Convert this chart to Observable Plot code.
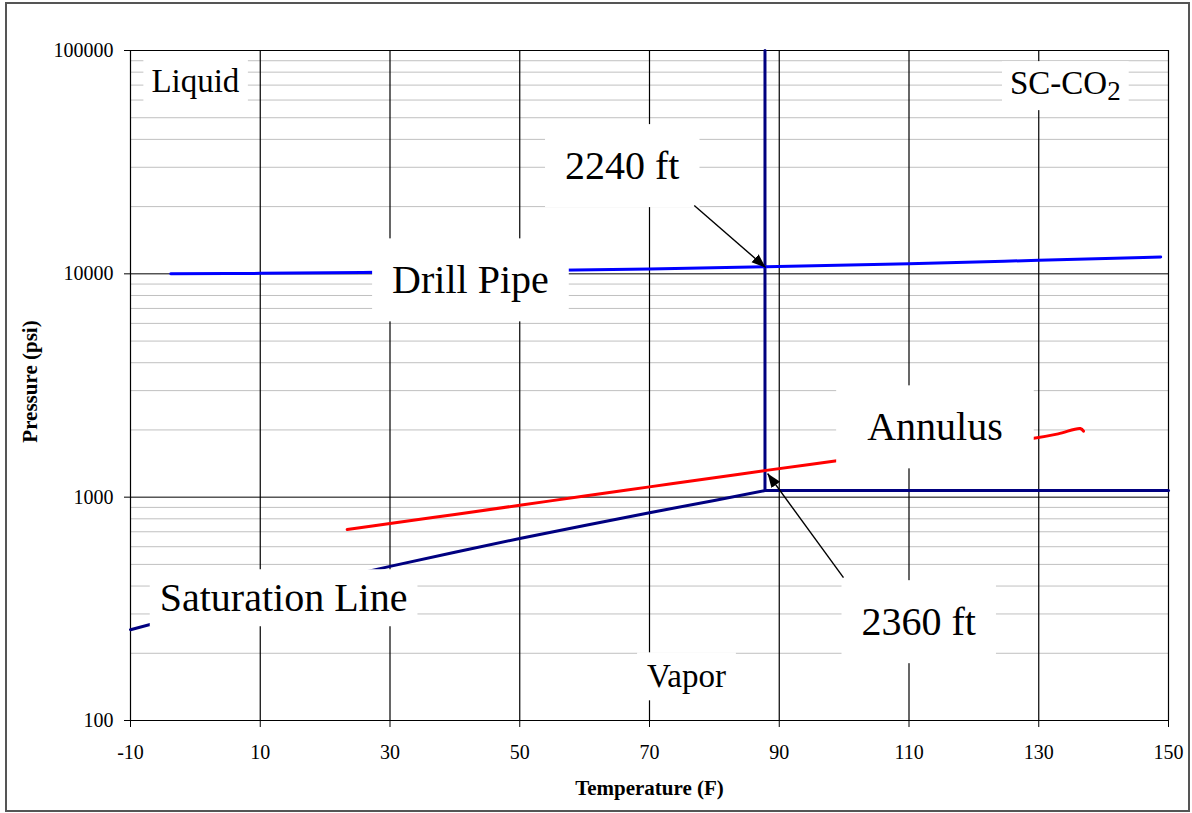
<!DOCTYPE html>
<html><head><meta charset="utf-8">
<script src="https://cdn.jsdelivr.net/npm/d3@7"></script>
<script src="https://cdn.jsdelivr.net/npm/@observablehq/plot@0.6"></script>
<style>
body{margin:0;background:#fff;}
#wrap{position:relative;width:1192px;height:813px;overflow:hidden;}
#frame{position:absolute;left:5px;top:2px;width:1181px;height:806px;border:2px solid #555;pointer-events:none;}
</style></head>
<body><div id="wrap"><div id="chart"></div><div id="frame"></div></div>
<script>
// ---- data ----
const xTicks = [-10, 10, 30, 50, 70, 90, 110, 130, 150];
const yMajor = [100, 1000, 10000, 100000];
const yMinor = [200,300,400,500,600,700,800,900,2000,3000,4000,5000,6000,7000,8000,9000,20000,30000,40000,50000,60000,70000,80000,90000];

// Saturation line (navy)
const satT = [-10, 0, 10, 20, 30, 40, 50, 60, 70, 80, 87.8];
const satP = [255, 305, 360, 421, 490, 567, 653, 747, 852, 967, 1070];
// critical temperature (vertical) and critical pressure (horizontal) lines
const critT = [87.8, 87.8];
const critP = [1070, 100000];
const cpT = [87.8, 150];
const cpP = [1070, 1070];
// Drill Pipe (blue)
const pipeT = [-3.8, 10, 30, 50, 70, 88, 110, 130, 148.8];
const pipeP = [10000, 10050, 10180, 10330, 10520, 10750, 11100, 11500, 11900];
// Annulus (red)
const annT = [23.4, 30, 40, 50, 60, 70, 80, 88, 100, 110, 120, 129, 133, 136.4, 136.9];
const annP = [716, 762, 837, 920, 1012, 1112, 1222, 1318, 1470, 1600, 1730, 1832, 1920, 2030, 1975];

// Labels
const labelText = ["Liquid", "SC-CO2", "Vapor", "2240 ft", "Drill Pipe", "Annulus", "Saturation Line", "2360 ft"];
const labelX    = [0, 134.1, 75.7, 65.8, 42.4, 114.0, 13.6, 111.5];
const labelY    = [72600, 71100, 157, 30300, 9330, 2050, 352, 275];
const labelBig  = [false, false, false, true, true, true, true, true];

// Arrows
const arrowX1 = [76.9, 99.9];
const arrowY1 = [20230, 436];
const arrowX2 = [87.9, 88.2];
const arrowY2 = [10674, 1276];

const toPts = (T, P) => T.map((t, i) => ({t, p: P[i]}));
const labels = labelText.map((s, i) => ({s, x: labelX[i], y: labelY[i], big: labelBig[i]}));
const arrows = arrowX1.map((x1, i) => ({x1, y1: arrowY1[i], x2: arrowX2[i], y2: arrowY2[i]}));

// ---- style ----
const serif = "'Liberation Serif','Times New Roman',serif";
const boxPad = {
  "Liquid": [8, 4], "SC-CO2": [8, 4], "Vapor": [10, 6],
  "2240 ft": [20, 19], "Drill Pipe": [20, 19], "Annulus": [31, 19],
  "Saturation Line": [10, 6], "2360 ft": [20, 19]
};

const plot = Plot.plot({
  width: 1192, height: 813,
  marginLeft: 130, marginRight: 24, marginTop: 50, marginBottom: 93,
  style: {fontFamily: serif, fontSize: "20px", color: "#000", background: "transparent"},
  x: {domain: [-10, 150]},
  y: {type: "log", domain: [100, 100000]},
  marks: [
    Plot.ruleY(yMinor, {stroke: "#c0c0c0", strokeWidth: 1}),
    Plot.ruleY(yMajor, {stroke: "#000", strokeWidth: 1}),
    Plot.ruleX(xTicks, {stroke: "#000", strokeWidth: 1.2}),
    Plot.line(toPts(satT, satP), {x: "t", y: "p", stroke: "#000080", strokeWidth: 3}),
    Plot.line(toPts(critT, critP), {x: "t", y: "p", stroke: "#000080", strokeWidth: 3}),
    Plot.line(toPts(cpT, cpP), {x: "t", y: "p", stroke: "#000080", strokeWidth: 3}),
    Plot.line(toPts(pipeT, pipeP), {x: "t", y: "p", stroke: "#0000ff", strokeWidth: 3, curve: "monotone-x"}),
    Plot.line(toPts(annT, annP), {x: "t", y: "p", stroke: "#ff0000", strokeWidth: 3, curve: "catmull-rom"}),
    Plot.text(labels.filter(d => !d.big), {x: "x", y: "y", text: "s", fontSize: 33, ariaDescription: "labsmall", fill: "#000"}),
    Plot.text(labels.filter(d => d.big), {x: "x", y: "y", text: "s", fontSize: 40, ariaDescription: "labbig", fill: "#000"}),
    Plot.link(arrows, {x1: "x1", y1: "y1", x2: "x2", y2: "y2", stroke: "#000", strokeWidth: 1.4, ariaDescription: "arrowlink"}),
    Plot.axisX({ticks: xTicks, tickSize: 7, tickPadding: 17, tickFormat: d => String(d), label: null, fontSize: 20}),
    Plot.axisY({ticks: yMajor, tickSize: 6, tickPadding: 11, tickFormat: d => String(d), label: null, fontSize: 20}),
    Plot.text(["Temperature (F)"], {frameAnchor: "bottom", dy: 74, fontWeight: "bold", fontSize: 21}),
    Plot.text(["Pressure (psi)"], {frameAnchor: "left", dx: -100, dy: -4, rotate: -90, textAnchor: "middle", fontWeight: "bold", fontSize: 21})
  ]
});

document.getElementById("chart").appendChild(plot);

const NS = "http://www.w3.org/2000/svg";
const grp = desc => plot.querySelector(`g[aria-description='${desc}']`);

// white boxes behind labels (sized from the rendered text)
function boxes(g) {
  g.querySelectorAll("text").forEach(t => {
    const key = t.textContent;
    if (key === "SC-CO2") {
      t.textContent = "SC-CO";
      const ts = document.createElementNS(NS, "tspan");
      ts.setAttribute("dy", "6");
      ts.setAttribute("font-size", "27");
      ts.textContent = "2";
      t.appendChild(ts);
    }
    const [padX, padY] = boxPad[key] || [8, 4];
    const b = t.getBBox();
    const r = document.createElementNS(NS, "rect");
    r.setAttribute("x", b.x - padX);
    r.setAttribute("y", b.y - padY);
    r.setAttribute("width", b.width + 2 * padX);
    r.setAttribute("height", b.height + 2 * padY);
    r.setAttribute("fill", "#fff");
    const tr = t.getAttribute("transform");
    if (tr) r.setAttribute("transform", tr);
    t.parentNode.insertBefore(r, t);
  });
}
boxes(grp("labsmall"));
boxes(grp("labbig"));

// filled arrowheads
const defs = document.createElementNS(NS, "defs");
const m = document.createElementNS(NS, "marker");
m.setAttribute("id", "ahead");
m.setAttribute("viewBox", "0 -5 10 10");
m.setAttribute("refX", "10");
m.setAttribute("refY", "0");
m.setAttribute("markerWidth", "14");
m.setAttribute("markerHeight", "14");
m.setAttribute("markerUnits", "userSpaceOnUse");
m.setAttribute("orient", "auto");
const mp = document.createElementNS(NS, "path");
mp.setAttribute("d", "M0,-3.8L10,0L0,3.8Z");
mp.setAttribute("fill", "#000");
m.appendChild(mp);
defs.appendChild(m);
plot.insertBefore(defs, plot.firstChild);
grp("arrowlink").querySelectorAll("path").forEach(p => p.setAttribute("marker-end", "url(#ahead)"));
</script>
</body></html>
